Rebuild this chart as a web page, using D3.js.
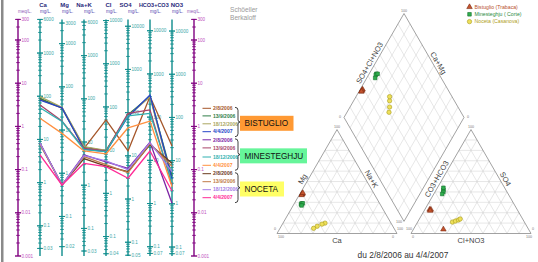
<!DOCTYPE html>
<html><head><meta charset="utf-8">
<script src="https://cdn.jsdelivr.net/npm/d3@7"></script>
<style>body{margin:0;background:#fff}svg{display:block}text{font-family:Arial,"Liberation Sans",sans-serif}</style>
</head><body><svg id="c" width="538" height="262"></svg>
<script>
// ---------- DATA ----------
const ions = ["Ca","Mg","Na+K","Cl","SO4","HCO3+CO3","NO3"];
const eqWeights = [20.04,12.15,23.0,35.45,48.03,61.02,62.0];
const topLabels = [6000,3000,6000,10000,10000,10000,10000];
const bottomLabels = [0.03,0.02,0.03,0.04,0.05,0.07,0.07];
const meqLabels = [300,100,10,1,0.1,0.01,0.001];
const sites = ["BISTUGLIO","MINESTEGHJU","NOCETA"];
const siteBoxColors = ["#ff9933","#66f59a","#ffff66"];
const dates = ["2/8/2006","13/9/2006","18/12/2006","4/4/2007"];
const bistuglioColors = ["#a5562a","#2f7d48","#aaa660","#2545c8"];
const minesteghjuColors = ["#7d25a5","#a8446a","#2eb0b0","#ff9040"];
const nocetaColors = ["#6b3a1e","#c07a48","#a47ce6","#ff2a96"];
// meq/L : Ca, Mg, Na+K, Cl, SO4, HCO3+CO3, NO3
const bistuglio = [
  [4.3, 2.65, 0.31, 1.41, 0.27, 4.9, 0.35],
  [4.47, 2.7, 0.33, 0.27, 1.85, 5.0, 0.07],
  [4.9, 2.75, 0.34, 0.28, 1.75, 4.85, 0.055],
  [4.08, 2.68, 0.30, 0.26, 1.68, 5.33, 0.06]
];
const minesteghju = [
  [0.41, 0.044, 0.22, 0.15, 0.107, 0.43, 0.0166],
  [3.13, 1.33, 0.31, 0.27, 2.0, 2.4, 0.045],
  [2.71, 1.3, 0.29, 0.26, 1.75, 2.0, 0.05],
  [1.54, 0.69, 0.27, 0.23, 0.93, 1.33, 0.04]
];
const noceta = [
  [0.40, 0.044, 0.18, 0.12, 0.09, 0.38, 0.14],
  [0.38, 0.044, 0.2, 0.13, 0.085, 0.4, 0.12],
  [0.41, 0.044, 0.21, 0.16, 0.1, 0.42, 0.09],
  [0.218, 0.044, 0.14, 0.117, 0.063, 0.27, 0.032]
];
// Piper: cation % [Ca, Mg, Na+K], anion % [HCO3+CO3, SO4, Cl+NO3]
const piperNames = ["Bistuglio (Trabaca)","Minesteghju ( Corte)","Noceta (Casanova)"];
const piperCations = [
  [[60,38,2],[60,38,2],[61,37,2],[59,39,2]],
  [[66,28,6],[65,29,6],[64,29,7],[66,27,7]],
  [[55,10,35],[58,9,33],[63,7,30],[67,5,28]]
];
const piperAnions = [
  [[71,4,25],[73,23,4],[72,23,5],[73,22,5]],
  [[52,42,6],[53,40,7],[55,38,7],[51,44,5]],
  [[60,11,29],[57,12,31],[54,13,33],[52,14,34]]
];
const piperTitle = "du 2/8/2006 au 4/4/2007";

// ---------- SCHOELLER ----------
const svg = d3.select("#c");
svg.append("rect").attr("x",1).attr("y",0).attr("width",2.5).attr("height",262).attr("fill","#8a8a8a");

const colX = i => 18 + 22*i;            // 0 = left meq, 1..7 ions, 8 = right meq
const yTop = 19.4, yBot = 256;
const meq = d3.scaleLog().domain([0.001,300]).range([yBot,yTop]);
const teal = "#0e8c8c", purple = "#800080";
const fmt = d3.format("~g");

function drawLogAxis(x, scale, labels, color, labelColor){
  const [lo,hi] = scale.domain();
  const g = svg.append("g");
  g.append("line").attr("x1",x).attr("x2",x).attr("y1",scale(hi)).attr("y2",scale(lo))
   .attr("stroke",color).attr("stroke-width",1.4);
  const e0 = Math.floor(Math.log10(lo)), e1 = Math.ceil(Math.log10(hi));
  const minor = [];
  for(let e=e0;e<=e1;e++) for(let k=1;k<10;k++){
    const v = k*Math.pow(10,e);
    if(v>=lo*0.999 && v<=hi*1.001) minor.push({v, major:k===1});
  }
  labels.forEach(v=>minor.push({v,major:true}));
  g.selectAll("line.t").data(minor).join("line").attr("class","t")
   .attr("x1",d=>x-(d.major?3:1.8)).attr("x2",d=>x+(d.major?3:1.8))
   .attr("y1",d=>scale(d.v)).attr("y2",d=>scale(d.v))
   .attr("stroke",color).attr("stroke-width",0.9);
  g.selectAll("text").data(labels).join("text")
   .attr("x",x+3.5).attr("y",d=>scale(d)+1.6)
   .attr("font-size",4.6).attr("fill",labelColor).text(d=>fmt(d));
}

drawLogAxis(colX(0), meq, meqLabels, purple, "#c050c0");
drawLogAxis(colX(8), meq, meqLabels, purple, "#c050c0");
ions.forEach((ion,i)=>{
  const w = eqWeights[i];
  const sc = d3.scaleLog().domain([0.001*w,300*w]).range([yBot,yTop]);
  const labs = [topLabels[i]];
  for(let e=4;e>=-1;e--){ const v=Math.pow(10,e); if(v<topLabels[i] && v>bottomLabels[i]) labs.push(v); }
  labs.push(bottomLabels[i]);
  drawLogAxis(colX(i+1), sc, labs, teal, "#3aa8a8");
});

// headers
const headerX = [43,64.5,84,108.5,125.5,153.8,176.8];
svg.selectAll("text.ion").data(ions).join("text").attr("class","ion")
  .attr("x",(d,i)=>headerX[i]).attr("y",6.5).attr("text-anchor","middle")
  .attr("font-size",(d,i)=>i===5?5.5:6).attr("font-weight","bold").attr("fill","#2a2a7c").text(d=>d);
svg.selectAll("text.unit").data(ions).join("text").attr("class","unit")
  .attr("x",(d,i)=>colX(i+1)).attr("y",12.5)
  .attr("font-size",4.5).attr("fill","#5548b0").text("mg/L.");
svg.append("text").attr("x",colX(0)).attr("y",12.5).attr("font-size",4.5).attr("fill","#9060b8").text("meq/L.");
svg.append("text").attr("x",colX(8)).attr("y",12.5).attr("text-anchor","middle").attr("font-size",4.5).attr("fill","#9060b8").text("meq/L.");
svg.append("text").attr("x",230).attr("y",12).attr("font-size",6.6).attr("fill","#9a9a9a").text("Schöeller");
svg.append("text").attr("x",230).attr("y",19.5).attr("font-size",6.6).attr("fill","#9a9a9a").text("Berkaloff");

// lines
const groups = [
  {data:bistuglio, colors:bistuglioColors},
  {data:minesteghju, colors:minesteghjuColors},
  {data:noceta, colors:nocetaColors}
];
const line = d3.line().x((d,i)=>colX(i+1)).y(d=>meq(d));
groups.forEach(gr=>{
  gr.data.forEach((row,j)=>{
    svg.append("path").attr("d",line(row)).attr("fill","none")
      .attr("stroke",gr.colors[j]).attr("stroke-width",1.3).attr("stroke-linejoin","round");
  });
});

// legend
const legYs = [108.3,115.9,123.8,131.7,139.8,147.9,157,165.3,173.7,181.7,189.7,197.7];
const boxW = [53.5,67,44];
groups.forEach((gr,gi)=>{
  dates.forEach((dt,j)=>{
    const k = gi*4+j, y = legYs[k];
    svg.append("line").attr("x1",202.5).attr("x2",211).attr("y1",y).attr("y2",y)
      .attr("stroke",gr.colors[j]).attr("stroke-width",1);
    svg.append("text").attr("x",213).attr("y",y+1.7).attr("font-size",5).attr("font-weight","bold")
      .attr("fill",gr.colors[j]).text(dt);
  });
  const y0 = legYs[gi*4]-1, y1 = legYs[gi*4+3]+5, ym=(y0+y1)/2;
  svg.append("path").attr("fill","none").attr("stroke","#111").attr("stroke-width",0.8)
    .attr("d",`M235,${y0} Q238,${y0} 238,${y0+3} L238,${ym-2} Q238,${ym} 240.5,${ym} Q238,${ym} 238,${ym+2} L238,${y1-3} Q238,${y1} 235,${y1}`);
  const bc = (legYs[gi*4]+legYs[gi*4+3])/2 + 3.3;
  svg.append("rect").attr("x",240).attr("y",bc-7.5).attr("width",boxW[gi]).attr("height",15)
    .attr("fill",siteBoxColors[gi]);
  svg.append("text").attr("x",244.5).attr("y",bc+3).attr("font-size",8.2).attr("fill","#111").text(sites[gi]);
});

// ---------- PIPER ----------
const s = 120, h = s*Math.sqrt(3)/2, baseY = 233.5, lx0 = 277, rx0 = 411;
const pct = d3.scaleLinear().domain([0,100]).range([0,1]);
const Bv = [(lx0+s+rx0)/2, baseY - (rx0-lx0-s)/2*Math.sqrt(3)];
const Lv = [Bv[0]-s/2, Bv[1]-h], Rv = [Bv[0]+s/2, Bv[1]-h], Tv = [Bv[0], Bv[1]-2*h];
const catTri = [[lx0,baseY],[lx0+s,baseY],[lx0+s/2,baseY-h]];
const aniTri = [[rx0,baseY],[rx0+s,baseY],[rx0+s/2,baseY-h]];
const lerp = (a,b,f)=>[a[0]+(b[0]-a[0])*f, a[1]+(b[1]-a[1])*f];
const pg = svg.append("g");
const gridLines = [];
[catTri, aniTri].forEach(tri=>{
  for(let v=0;v<3;v++){ const V=tri[v], W1=tri[(v+1)%3], W2=tri[(v+2)%3];
    for(let i=1;i<10;i++){ gridLines.push([lerp(V,W1,i/10), lerp(V,W2,i/10)]); } }
});
for(let i=1;i<10;i++){
  gridLines.push([lerp(Bv,Rv,i/10), lerp(Lv,Tv,i/10)]);
  gridLines.push([lerp(Bv,Lv,i/10), lerp(Rv,Tv,i/10)]);
}
pg.selectAll("line.g").data(gridLines).join("line").attr("class","g")
  .attr("x1",d=>d[0][0]).attr("y1",d=>d[0][1]).attr("x2",d=>d[1][0]).attr("y2",d=>d[1][1])
  .attr("stroke","#cfcfcf").attr("stroke-width",0.5);
[catTri, aniTri, [Bv,Lv,Tv,Rv]].forEach(poly=>{
  pg.append("polygon").attr("points",poly.map(p=>p.join(",")).join(" "))
    .attr("fill","none").attr("stroke","#8a8a8a").attr("stroke-width",0.8);
});
// corner labels
const tiny = [
  [catTri[2][0],catTri[2][1]-2,"100"],[catTri[0][0]+4,baseY+4.5,"100"],[catTri[1][0]-4,baseY+4.5,"0"],
  [catTri[0][0]-2,baseY-4,"0"],[catTri[1][0]+3,baseY-4,"100"],
  [aniTri[2][0],aniTri[2][1]-2,"100"],[aniTri[0][0]+2,baseY+4.5,"0"],[aniTri[1][0]-2,baseY+4.5,"100"],
  [aniTri[0][0]-2,baseY-4,"100"],[aniTri[1][0]+2,baseY-4,"0"],
  [Tv[0],Tv[1]-2,"100"],[Lv[0]-4,Lv[1]+1,"0"],[Rv[0]+4,Rv[1]+1,"0"],[Bv[0]-5,Bv[1]+2,"100"]
];
pg.selectAll("text.tiny").data(tiny).join("text").attr("class","tiny")
  .attr("x",d=>d[0]).attr("y",d=>d[1]).attr("text-anchor","middle").attr("font-size",3.6)
  .attr("fill","#777").text(d=>d[2]);
// axis labels
function edgeLabel(p1,p2,txt,rot,off){
  const m=[(p1[0]+p2[0])/2,(p1[1]+p2[1])/2];
  const a = rot*Math.PI/180, nx=Math.sin(a), ny=-Math.cos(a);
  pg.append("text").attr("transform",`translate(${m[0]+nx*off},${m[1]+ny*off}) rotate(${rot})`)
    .attr("text-anchor","middle").attr("font-size",7.5).attr("fill","#444").text(txt);
}
edgeLabel(catTri[0],catTri[2],"Mg",-60,2.5);
edgeLabel(catTri[1],catTri[2],"Na+K",60,2.5);
edgeLabel(aniTri[0],aniTri[2],"CO3+HCO3",-60,2.5);
edgeLabel(aniTri[1],aniTri[2],"SO4",60,2.5);
edgeLabel(Lv,Tv,"SO4+Cl+NO3",-60,2.5);
edgeLabel(Rv,Tv,"Ca+Mg",60,2.5);
pg.append("text").attr("x",lx0+s/2).attr("y",baseY+9.5).attr("text-anchor","middle").attr("font-size",7.5).attr("fill","#444").text("Ca");
pg.append("text").attr("x",rx0+s/2).attr("y",baseY+9.5).attr("text-anchor","middle").attr("font-size",7.5).attr("fill","#444").text("Cl+NO3");
pg.append("text").attr("x",403).attr("y",257.5).attr("text-anchor","middle").attr("font-size",8.4).attr("fill","#333").text(piperTitle);

// points
const catPos = c => [lx0 + s*(pct(c[2]) + pct(c[1])/2), baseY - h*pct(c[1])];
const aniPos = a => [rx0 + s*(pct(a[2]) + pct(a[1])/2), baseY - h*pct(a[1])];
const diaPos = (c,a) => { const u=1-pct(c[2]), v=pct(a[1]+a[2]);
  return [Bv[0] + (v-u)*s/2, Bv[1] - (u+v)*h]; };
const symTypes = [d3.symbolTriangle, d3.symbolSquare, d3.symbolCircle];
const symSize = [13,13,15];
const symFill = ["#c4532e","#2fae4e","#eee05a"];
const symStroke = ["#7a2a10","#18702e","#a89a1c"];
const legTextColor = ["#b8502c","#2c8a40","#b0a020"];
piperNames.forEach((nm,gi)=>{
  const sym = d3.symbol().type(symTypes[gi]).size(symSize[gi]);
  const pts = [];
  piperCations[gi].forEach((c,j)=>{
    const a = piperAnions[gi][j];
    pts.push(catPos(c), aniPos(a), diaPos(c,a));
  });
  pg.selectAll(null).data(pts).join("path").attr("d",sym())
    .attr("transform",d=>`translate(${d[0]},${d[1]})`)
    .attr("fill",symFill[gi]).attr("stroke",symStroke[gi]).attr("stroke-width",0.6);
  const ly = 7 + gi*7.3;
  pg.append("path").attr("d",sym()).attr("transform",`translate(469.5,${ly})`)
    .attr("fill",symFill[gi]).attr("stroke",symStroke[gi]).attr("stroke-width",0.6);
  pg.append("text").attr("x",474.5).attr("y",ly+1.8).attr("font-size",5.2).attr("fill",legTextColor[gi]).text(nm);
});
</script></body></html>
